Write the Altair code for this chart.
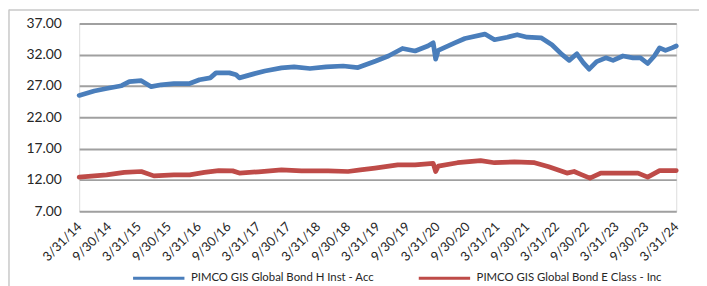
import altair as alt
import pandas as pd

# ---- data ----
series_names = ["PIMCO GIS Global Bond H Inst - Acc", "PIMCO GIS Global Bond E Class - Inc"]
series_colors = ["#4A7EBB", "#BE4B48"]

blue_dates = [
    "2014-03-31", "2014-07-01", "2014-09-15", "2014-12-15", "2015-02-01", "2015-04-15",
    "2015-06-15", "2015-08-15", "2015-10-31", "2016-02-05", "2016-04-05", "2016-06-10",
    "2016-07-15", "2016-10-05", "2016-11-15", "2016-12-05", "2017-02-25", "2017-05-10",
    "2017-08-20", "2017-11-05", "2018-02-10", "2018-05-20", "2018-09-01", "2018-12-01",
    "2019-03-20", "2019-06-05", "2019-08-30", "2019-11-15", "2020-02-01", "2020-03-05",
    "2020-03-20", "2020-04-05", "2020-07-15", "2020-09-15", "2021-01-15", "2021-03-15",
    "2021-06-01", "2021-08-01", "2021-10-01", "2021-12-25", "2022-03-01", "2022-05-01",
    "2022-06-15", "2022-08-01", "2022-09-10", "2022-10-15", "2022-11-30", "2023-01-25",
    "2023-03-10", "2023-05-10", "2023-07-10", "2023-08-25", "2023-10-08", "2023-11-18",
    "2023-12-20", "2024-01-25", "2024-03-05", "2024-03-31",
]
blue_values = [
    25.5, 26.2, 26.6, 27.05, 27.7, 27.85,
    26.9, 27.2, 27.4, 27.4, 28.0, 28.3,
    29.1, 29.1, 28.8, 28.3, 28.9, 29.4,
    29.9, 30.05, 29.8, 30.05, 30.2, 29.95,
    31.0, 31.8, 33.0, 32.6, 33.4, 33.9,
    31.3, 32.7, 33.9, 34.6, 35.3, 34.4,
    34.8, 35.2, 34.8, 34.7, 33.6, 32.05,
    31.1, 32.15, 30.7, 29.7, 30.9, 31.5,
    31.1, 31.8, 31.5, 31.5, 30.6, 31.8,
    33.1, 32.7, 33.1, 33.4,
]

red_dates = [
    "2014-03-31", "2014-09-15", "2015-01-01", "2015-04-15", "2015-07-01", "2015-10-31",
    "2016-02-05", "2016-05-05", "2016-08-01", "2016-10-25", "2016-12-05", "2017-04-01",
    "2017-08-20", "2017-12-20", "2018-06-01", "2018-10-01", "2018-12-15", "2019-03-15",
    "2019-08-01", "2019-11-15", "2020-03-05", "2020-03-20", "2020-04-05", "2020-08-01",
    "2020-12-20", "2021-03-15", "2021-07-15", "2021-11-15", "2022-02-10", "2022-06-01",
    "2022-07-15", "2022-08-25", "2022-10-20", "2022-12-25", "2023-04-15", "2023-08-10",
    "2023-10-08", "2023-12-20", "2024-03-31",
]
red_values = [
    12.45, 12.8, 13.2, 13.35, 12.65, 12.8,
    12.8, 13.2, 13.5, 13.45, 13.1, 13.3,
    13.6, 13.45, 13.45, 13.35, 13.6, 13.9,
    14.4, 14.4, 14.65, 13.35, 14.2, 14.75,
    15.1, 14.75, 14.9, 14.75, 14.1, 13.1,
    13.35, 12.9, 12.3, 13.1, 13.1, 13.1,
    12.45, 13.5, 13.5,
]

y_ticks = [7, 12, 17, 22, 27, 32, 37]
x_tick_dates = [
    (2014, 3, 31), (2014, 9, 30), (2015, 3, 31), (2015, 9, 30), (2016, 3, 31), (2016, 9, 30),
    (2017, 3, 31), (2017, 9, 30), (2018, 3, 31), (2018, 9, 30), (2019, 3, 31), (2019, 9, 30),
    (2020, 3, 31), (2020, 9, 30), (2021, 3, 31), (2021, 9, 30), (2022, 3, 31), (2022, 9, 30),
    (2023, 3, 31), (2023, 9, 30), (2024, 3, 31),
]

# ---- build table ----
df = pd.concat([
    pd.DataFrame({"date": [d + "T00:00:00" for d in blue_dates], "value": blue_values,
                  "series": series_names[0]}),
    pd.DataFrame({"date": [d + "T00:00:00" for d in red_dates], "value": red_values,
                  "series": series_names[1]}),
], ignore_index=True)

FONT = "Lato"
tick_vals = [alt.DateTime(year=y, month=m, date=d) for (y, m, d) in x_tick_dates]

lines = alt.Chart(df).mark_line(strokeWidth=4.8, strokeJoin="round", strokeCap="round", clip=False).encode(
    x=alt.X("date:T",
            scale=alt.Scale(domain=[tick_vals[0], tick_vals[-1]]),
            axis=alt.Axis(values=tick_vals, format="%-m/%d/%y", labelAngle=-45,
                          labelAlign="right", labelBaseline="middle", labelPadding=13,
                          labelFont=FONT, labelFontSize=13, labelColor="#262626",
                          domain=False, ticks=False, grid=False, title=None,
                          labelOverlap=False, labelBound=False, labelFlush=False)),
    y=alt.Y("value:Q",
            scale=alt.Scale(domain=[7, 37], nice=False, zero=False),
            axis=alt.Axis(values=y_ticks, format=".2f", labelFont=FONT, labelFontSize=14,
                          labelColor="#262626", labelPadding=18, domain=False, ticks=False,
                          grid=True, gridColor="#a0a0a0", gridWidth=2, title=None)),
    color=alt.Color("series:N",
                    scale=alt.Scale(domain=series_names, range=series_colors),
                    legend=alt.Legend(orient="none", legendX=53, legendY=230, direction="horizontal",
                                      title=None, symbolType="stroke", symbolSize=2700,
                                      symbolStrokeWidth=3, labelFont=FONT, labelFontSize=11.5,
                                      labelColor="#262626", columnPadding=38, labelOffset=5,
                                      labelLimit=400)),
)

frame_src = pd.DataFrame({"a": [0]})
frame_top = alt.Chart(frame_src).mark_rule(stroke="#c8c8c8", strokeWidth=1.5, clip=False).encode(
    x=alt.value(-71), x2=alt.value(660), y=alt.value(-13.5))
frame_left = alt.Chart(frame_src).mark_rule(stroke="#c8c8c8", strokeWidth=1.5, clip=False).encode(
    x=alt.value(-71), y=alt.value(-14), y2=alt.value(300))

chart = alt.layer(frame_top, frame_left, lines).properties(
    width=604, height=190,
    autosize=alt.AutoSizeParams(type="none"),
    padding={"left": 72, "top": 14, "right": 23, "bottom": 74},
).configure_view(stroke=None).configure(background="white")

chart.save("out.html", embed_options={"renderer": "svg", "actions": False})
